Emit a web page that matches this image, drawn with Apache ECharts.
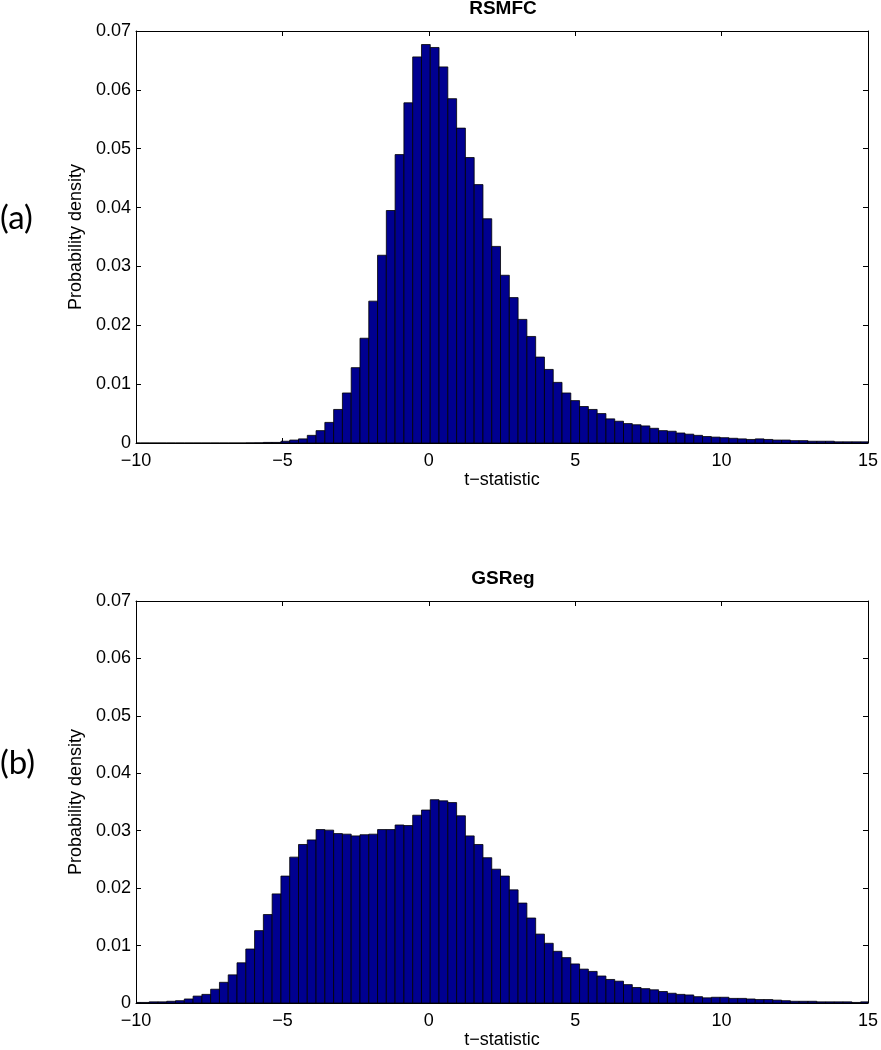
<!DOCTYPE html>
<html>
<head>
<meta charset="utf-8">
<script src="https://cdn.jsdelivr.net/npm/echarts@6/dist/echarts.min.js"></script>
<style>
  html, body { margin: 0; padding: 0; background: #ffffff; }
  #chart { width: 881px; height: 1050px; }
</style>
</head>
<body>
<div id="chart"></div>
<script>
// ---- data ----
var binCenters = [-10.0,-9.7,-9.4,-9.1,-8.8,-8.5,-8.2,-7.9,-7.6,-7.3,-7.0,-6.7,-6.4,-6.1,-5.8,-5.5,-5.2,-4.9,-4.6,-4.3,-4.0,-3.7,-3.4,-3.1,-2.8,-2.5,-2.2,-1.9,-1.6,-1.3,-1.0,-0.7,-0.4,-0.1,0.2,0.5,0.8,1.1,1.4,1.7,2.0,2.3,2.6,2.9,3.2,3.5,3.8,4.1,4.4,4.7,5.0,5.3,5.6,5.9,6.2,6.5,6.8,7.1,7.4,7.7,8.0,8.3,8.6,8.9,9.2,9.5,9.8,10.1,10.4,10.7,11.0,11.3,11.6,11.9,12.2,12.5,12.8,13.1,13.4,13.7,14.0,14.3,14.6,14.9];

var rsmfcDensity = [0,0,0,0,0,0,0,0,0,0,0,0,0,0.00002,0.00003,
  0.0001,0.0001,0.0003,0.0005,0.0007,0.0013,0.0021,0.0035,0.0057,0.0085,0.0128,0.0178,0.0241,0.0319,0.0395,0.0490,0.0578,0.0656,
  0.0677,0.0672,0.0639,0.0585,0.0535,0.0485,0.0439,0.0381,0.0334,0.0285,0.0247,0.0210,0.0181,0.0146,0.0125,0.0103,0.0085,0.0072,
  0.0062,0.0057,0.0050,0.0041,0.0037,0.0033,0.0031,0.0029,0.0025,0.0021,0.0020,0.0017,0.0015,0.0013,0.0011,0.0010,0.0009,0.0008,
  0.0007,0.0006,0.0007,0.0006,0.0005,0.0005,0.0004,0.0004,0.0003,0.0003,0.0003,0.0002,0.0002,0.0002,0.0002];

var gsregDensity = [0.0001,0.0001,0.0002,0.0002,0.0003,0.0004,0.0007,0.0012,0.0015,0.0024,0.0036,0.0049,0.0070,0.0094,0.0126,
  0.0154,0.0190,0.0221,0.0254,0.0276,0.0284,0.0302,0.0301,0.0295,0.0294,0.0291,0.0293,0.0294,0.0302,0.0302,0.0310,0.0309,0.0327,
  0.0336,0.0354,0.0352,0.0349,0.0326,0.0291,0.0276,0.0253,0.0233,0.0221,0.0197,0.0174,0.0148,0.0120,0.0104,0.0090,0.0079,0.0068,
  0.0059,0.0055,0.0047,0.0041,0.0038,0.0032,0.0027,0.0025,0.0023,0.0020,0.0017,0.0015,0.0014,0.0011,0.0009,0.0010,0.0010,0.0008,
  0.0008,0.0007,0.0006,0.0006,0.0005,0.0004,0.0003,0.0003,0.0003,0.0002,0.0002,0.0002,0.0002,0.0001,0.0002];

var panelTitles = ['RSMFC', 'GSReg'];
var panelTags = ['(a)', '(b)'];
var xTicks = [-10, -5, 0, 5, 10, 15];
var yTicks = [0, 0.01, 0.02, 0.03, 0.04, 0.05, 0.06, 0.07];
var xLabel = 't\u2212statistic';
var yLabel = 'Probability density';

// ---- chart ----
var BIN = 0.3;
var FONT = 'Liberation Sans, Arial, Helvetica, sans-serif';
var chart = echarts.init(document.getElementById('chart'), null, {renderer: 'canvas'});

function pairs(vals) {
  return binCenters.map(function (c, i) { return [c, vals[i]]; });
}

function renderItem(params, api) {
  var x = api.value(0), y = api.value(1);
  var p0 = api.coord([x - BIN / 2, y]);
  var p1 = api.coord([x + BIN / 2, 0]);
  var cs = params.coordSys;
  var rect = echarts.graphic.clipRectByRect(
    {x: p0[0], y: p0[1], width: p1[0] - p0[0], height: p1[1] - p0[1]},
    {x: cs.x, y: cs.y, width: cs.width, height: cs.height}
  );
  if (!rect) return;
  return {
    type: 'rect',
    shape: rect,
    style: {fill: '#000090', stroke: '#000000', lineWidth: 0.8}
  };
}

var grids = [
  {left: 136, width: 734, top: 31, height: 412},
  {left: 136, width: 734, top: 601, height: 407}
];

var xAxes = [], yAxes = [], series = [];
grids.forEach(function (g, i) {
  xAxes.push({
    type: 'value', gridIndex: i, position: 'bottom',
    min: xTicks[0], max: xTicks[xTicks.length - 1], interval: 5,
    splitLine: {show: false},
    axisLine: {show: true, onZero: false, lineStyle: {color: '#000', width: 1}},
    axisTick: {show: true, inside: true, length: 5, lineStyle: {color: '#000'}},
    axisLabel: {
      color: '#000', fontSize: 18, fontFamily: FONT, margin: 9,
      formatter: function (v) { return String(v).replace('-', '\u2212'); }
    },
    name: xLabel, nameLocation: 'middle', nameGap: 28,
    nameTextStyle: {color: '#000', fontSize: 18, fontFamily: FONT}
  });
  xAxes.push({
    type: 'value', gridIndex: i, position: 'top',
    min: xTicks[0], max: xTicks[xTicks.length - 1], interval: 5,
    splitLine: {show: false},
    axisLine: {show: true, onZero: false, lineStyle: {color: '#000', width: 1}},
    axisTick: {show: true, inside: true, length: 5, lineStyle: {color: '#000'}},
    axisLabel: {show: false}
  });
  yAxes.push({
    type: 'value', gridIndex: i, position: 'left',
    min: yTicks[0], max: yTicks[yTicks.length - 1], interval: 0.01,
    splitLine: {show: false},
    axisLine: {show: true, onZero: false, lineStyle: {color: '#000', width: 1}},
    axisTick: {show: true, inside: true, length: 5, lineStyle: {color: '#000'}},
    axisLabel: {
      color: '#000', fontSize: 18, fontFamily: FONT, margin: 5,
      formatter: function (v) { return v === 0 ? '0' : v.toFixed(2); }
    },
    name: yLabel, nameLocation: 'middle', nameGap: 50, nameRotate: 90,
    nameTextStyle: {color: '#000', fontSize: 18, fontFamily: FONT}
  });
  yAxes.push({
    type: 'value', gridIndex: i, position: 'right',
    min: yTicks[0], max: yTicks[yTicks.length - 1], interval: 0.01,
    splitLine: {show: false},
    axisLine: {show: true, onZero: false, lineStyle: {color: '#000', width: 1}},
    axisTick: {show: true, inside: true, length: 5, lineStyle: {color: '#000'}},
    axisLabel: {show: false}
  });
  series.push({
    type: 'custom',
    name: panelTitles[i],
    xAxisIndex: i * 2, yAxisIndex: i * 2,
    renderItem: renderItem,
    encode: {x: 0, y: 1},
    clip: true,
    data: pairs(i === 0 ? rsmfcDensity : gsregDensity)
  });
});

var option = {
  animation: false,
  backgroundColor: '#ffffff',
  grid: grids,
  xAxis: xAxes,
  yAxis: yAxes,
  series: series,
  graphic: [
    {type: 'text', x: 503, y: 9, style: {text: panelTitles[0], fill: '#000', font: 'bold 19px ' + FONT, align: 'center', verticalAlign: 'middle'}},
    {type: 'text', x: 503, y: 579, style: {text: panelTitles[1], fill: '#000', font: 'bold 19px ' + FONT, align: 'center', verticalAlign: 'middle'}},
    {type: 'text', x: 0, y: 218, style: {text: panelTags[0], fill: '#000', font: '33px Lato, "Open Sans", sans-serif', align: 'left', verticalAlign: 'middle'}},
    {type: 'text', x: 0, y: 763, style: {text: panelTags[1], fill: '#000', font: '33px Lato, "Open Sans", sans-serif', align: 'left', verticalAlign: 'middle'}}
  ]
};
chart.setOption(option);
</script>
</body>
</html>
